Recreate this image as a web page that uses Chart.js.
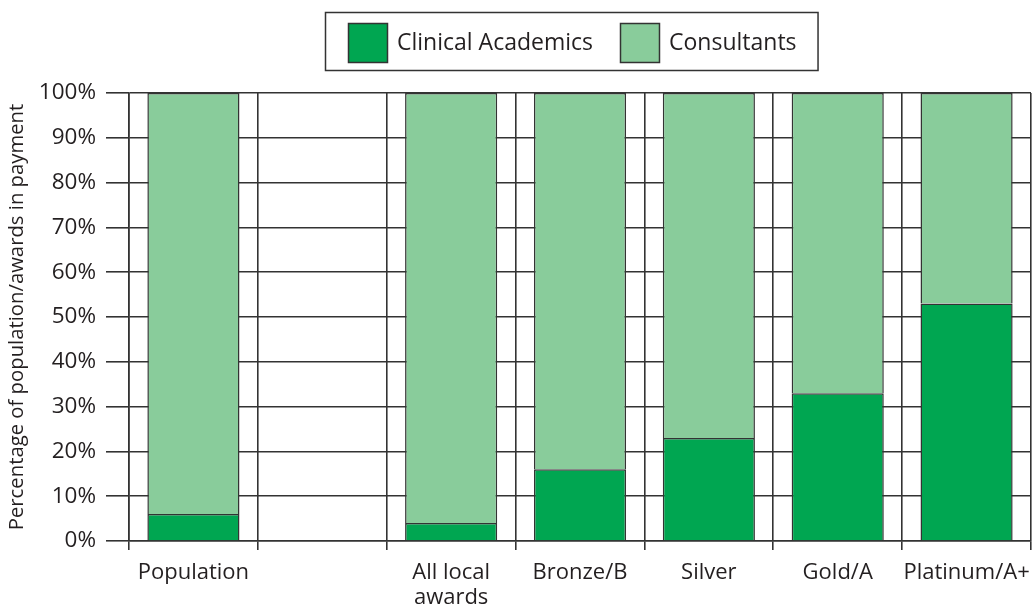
<!DOCTYPE html>
<html>
<head>
<meta charset="utf-8">
<script src="https://cdn.jsdelivr.net/npm/chart.js@4.4.1/dist/chart.umd.min.js"></script>
<style>
  html, body { margin: 0; padding: 0; background: #fff; }
  #wrap { width: 1032px; height: 610px; position: relative; }
</style>
</head>
<body>
<div id="wrap"><canvas id="c" width="1032" height="610"></canvas></div>
<script>
const categories = ['Population', '', ['All local', 'awards'], 'Bronze/B', 'Silver', 'Gold/A', 'Platinum/A+'];
const clinicalAcademics = [6, null, 4, 16, 23, 33, 53];
const consultants = [94, null, 96, 84, 77, 67, 47];
const yTicks = [0, 10, 20, 30, 40, 50, 60, 70, 80, 90, 100];
const seriesNames = ['Clinical Academics', 'Consultants'];
const seriesColors = ['#00a651', '#89cc9b'];

const FONT = "'Open Sans', 'DejaVu Sans', sans-serif";
const TEXT = '#231f20';
const LINE = '#333333';

const legendPlugin = {
  id: 'boxLegend',
  afterDraw(chart) {
    const ctx = chart.ctx;
    ctx.save();
    ctx.font = '23px ' + FONT;
    const sq = 39, gapT = 10, gapItems = 27, padL = 23, padR = 21;
    const widths = chart.data.datasets.map(d => ctx.measureText(d.label).width);
    let inner = 0;
    widths.forEach((w, i) => { inner += sq + gapT + w + (i ? gapItems : 0); });
    const boxW = inner + padL + padR;
    const boxH = 58, boxY = 12;
    const cx = 571.5;
    const boxX = Math.round(cx - boxW / 2);
    ctx.lineWidth = 1.5;
    ctx.strokeStyle = LINE;
    ctx.strokeRect(boxX + 0.5, boxY + 0.5, boxW, boxH);
    let x = boxX + padL;
    const sqY = boxY + 11;
    chart.data.datasets.forEach((d, i) => {
      ctx.fillStyle = d.backgroundColor;
      ctx.fillRect(x, sqY, sq, sq);
      ctx.strokeRect(x + 0.5, sqY + 0.5, sq, sq);
      ctx.fillStyle = TEXT;
      ctx.textBaseline = 'middle';
      ctx.textAlign = 'left';
      ctx.fillText(d.label, x + sq + gapT, sqY + sq / 2 + 1);
      x += sq + gapT + widths[i] + gapItems;
    });
    ctx.restore();
  }
};

new Chart(document.getElementById('c'), {
  type: 'bar',
  data: {
    labels: categories,
    datasets: [
      { label: seriesNames[0], data: clinicalAcademics, backgroundColor: seriesColors[0], borderColor: LINE, borderWidth: 1.5, borderSkipped: 'start' },
      { label: seriesNames[1], data: consultants, backgroundColor: seriesColors[1], borderColor: LINE, borderWidth: 1.5, borderSkipped: 'start' }
    ]
  },
  options: {
    responsive: false,
    animation: false,
    devicePixelRatio: 1,
    layout: { padding: { top: 93, right: 1, left: 0, bottom: 0 } },
    plugins: {
      legend: { display: false },
      tooltip: { enabled: false },
      title: { display: false }
    },
    datasets: { bar: { categoryPercentage: 0.715, barPercentage: 1 } },
    scales: {
      x: {
        stacked: true,
        offset: true,
        afterFit(scale) { scale.height = 69; scale.paddingLeft = 0; scale.paddingRight = 0; },
        grid: { offset: true, color: LINE, lineWidth: 1.6, tickLength: 9, drawOnChartArea: true },
        border: { display: true, color: LINE, width: 1.6 },
        ticks: { color: TEXT, font: { family: FONT, size: 22, lineHeight: 1.15 }, padding: 10, maxRotation: 0, autoSkip: false }
      },
      y: {
        stacked: true,
        min: 0,
        max: 100,
        afterFit(scale) { scale.width = 129; scale.paddingTop = 0; scale.paddingBottom = 0; },
        afterBuildTicks(scale) { scale.ticks = yTicks.map(v => ({ value: v })); },
        grid: { color: LINE, lineWidth: 1.6, tickLength: 23 },
        border: { display: true, color: LINE, width: 1.6 },
        ticks: { color: TEXT, font: { family: FONT, size: 22.5 }, padding: 10, callback: v => v + '%' },
        title: { display: true, text: 'Percentage of population/awards in payment', color: TEXT, font: { family: FONT, size: 20.3 }, padding: { top: 5, bottom: 0 } }
      }
    }
  },
  plugins: [legendPlugin]
});
</script>
</body>
</html>
